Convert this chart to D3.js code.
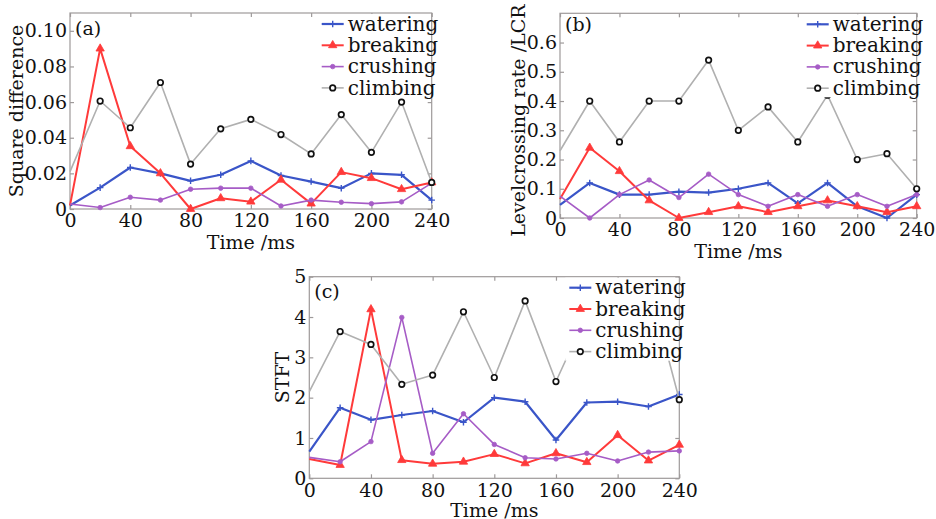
<!DOCTYPE html>
<html>
<head>
<meta charset="utf-8">
<script src="https://cdn.jsdelivr.net/npm/d3@7"></script>
<style>
  body { margin: 0; background: #fff; }
  svg { display: block; font-family: 'DejaVu Serif', serif; }
  .box { fill: none; stroke: #9e9a9a; stroke-width: 1.2; }
  .axis path { display: none; }
  .axis line { stroke: #9e9a9a; stroke-width: 1.2; }
  .axis text { fill: #111; font-size: 19px; font-family: 'DejaVu Serif', serif; }
  .axis-label { fill: #111; font-size: 19px; }
  .legend-text { fill: #111; font-size: 20px; }
</style>
</head>
<body>
<svg id="chart" width="936" height="519"></svg>
<script>
// time axis shared by all three panels (ms)
const times = [0, 20, 40, 60, 80, 100, 120, 140, 160, 180, 200, 220, 240];
const x_ticks = [0, 40, 80, 120, 160, 200, 240];
const series_names = ['watering', 'breaking', 'crushing', 'climbing'];

// (a) square difference
const sq_watering = [0.002, 0.012, 0.0233, 0.020, 0.0158, 0.0192, 0.027, 0.0188, 0.0154, 0.0117, 0.020, 0.0192, 0.005];
const sq_breaking = [0.002, 0.090, 0.0352, 0.020, 0.0, 0.006, 0.0041, 0.0164, 0.003, 0.0207, 0.0173, 0.0111, 0.0149];
const sq_crushing = [0.0028, 0.0008, 0.0066, 0.005, 0.0111, 0.0117, 0.0117, 0.0017, 0.005, 0.0038, 0.003, 0.004, 0.0145];
const sq_climbing = [0.021, 0.0606, 0.0456, 0.071, 0.0252, 0.045, 0.0503, 0.0418, 0.0309, 0.053, 0.0318, 0.060, 0.0149];
const sq_ticks = [0, 0.02, 0.04, 0.06, 0.08, 0.10];

// (b) level crossing rate
const lcr_watering = [0.045, 0.12, 0.08, 0.08, 0.09, 0.087, 0.10, 0.12, 0.05, 0.12, 0.04, 0.0, 0.08];
const lcr_breaking = [0.065, 0.24, 0.16, 0.06, 0.0, 0.02, 0.04, 0.02, 0.04, 0.06, 0.04, 0.02, 0.04];
const lcr_crushing = [0.075, 0.0, 0.08, 0.13, 0.07, 0.15, 0.08, 0.04, 0.08, 0.04, 0.08, 0.04, 0.08];
const lcr_climbing = [0.23, 0.40, 0.26, 0.40, 0.40, 0.54, 0.30, 0.38, 0.26, 0.42, 0.20, 0.22, 0.10];
const lcr_ticks = [0, 0.1, 0.2, 0.3, 0.4, 0.5, 0.6];

// (c) STFT (180-220 of climbing sit behind the legend)
const stft_watering = [0.66, 1.75, 1.45, 1.57, 1.67, 1.39, 2.0, 1.90, 0.95, 1.88, 1.90, 1.78, 2.08];
const stft_breaking = [0.48, 0.33, 4.19, 0.45, 0.36, 0.41, 0.60, 0.37, 0.62, 0.40, 1.07, 0.44, 0.83];
const stft_crushing = [0.52, 0.41, 0.91, 3.99, 0.62, 1.60, 0.84, 0.51, 0.48, 0.62, 0.43, 0.65, 0.68];
const stft_climbing = [2.15, 3.64, 3.32, 2.33, 2.56, 4.13, 2.50, 4.40, 2.40, 4.07, 3.40, 4.85, 1.95];
const stft_ticks = [0, 1, 2, 3, 4, 5];

const styles = {
  watering: { color: '#3a55c8', width: 2.2, marker: 'plus' },
  breaking: { color: '#ff3a3a', width: 2, marker: 'triangle' },
  crushing: { color: '#a65cc6', width: 1.6, marker: 'dot' },
  climbing: { color: '#b0b0b0', width: 1.6, marker: 'ring' }
};

const panels = [
  {
    tag: '(a)', label: 'Square difference', label_x: -47, label_dy: 0, tag_y: 22,
    box: { left: 70, top: 13, right: 431.7, bottom: 209 },
    y_max: 0.11, y_ticks: sq_ticks,
    y_format: d => (d === 0 ? '0' : d3.format('.2f')(d)),
    series: [sq_watering, sq_breaking, sq_crushing, sq_climbing]
  },
  {
    tag: '(b)', label: 'Levelcrossing rate /LCR', label_x: -35, label_dy: 5, tag_y: 18,
    box: { left: 560, top: 13.3, right: 916.7, bottom: 218 },
    y_max: 0.7, y_ticks: lcr_ticks,
    y_format: d => (d === 0 ? '0' : d3.format('.1f')(d)),
    series: [lcr_watering, lcr_breaking, lcr_crushing, lcr_climbing]
  },
  {
    tag: '(c)', label: 'STFT', label_x: -20, label_dy: 0, tag_y: 21,
    box: { left: 309.3, top: 276.7, right: 679.3, bottom: 478.3 },
    y_max: 5, y_ticks: stft_ticks,
    y_format: d => String(d),
    series: [stft_watering, stft_breaking, stft_crushing, stft_climbing]
  }
];

const svg = d3.select('#chart');

function marker_path(kind) {
  if (kind === 'triangle') return d3.symbol(d3.symbolTriangle, 30)();
  if (kind === 'dot') return d3.symbol(d3.symbolCircle, 16)();
  if (kind === 'ring') return d3.symbol(d3.symbolCircle, 24)();
  return d3.symbol(d3.symbolPlus || d3.symbolCross, 16)();
}

function draw_markers(sel, key) {
  const st = styles[key];
  const m = marker_path(st.marker);
  if (st.marker === 'ring') {
    sel.attr('d', m).attr('fill', '#fff').attr('stroke', '#111').attr('stroke-width', 1.7);
  } else if (st.marker === 'plus') {
    sel.attr('d', m).attr('fill', 'none').attr('stroke', st.color).attr('stroke-width', 1.4);
  } else {
    sel.attr('d', m).attr('fill', st.color).attr('stroke', st.color).attr('stroke-width', 0.8);
  }
}

function draw_panel(p) {
  const { left, top, right, bottom } = p.box;
  const w = right - left;
  const h = bottom - top;
  const g = svg.append('g').attr('transform', `translate(${left},${top})`);

  const x = d3.scaleLinear().domain([0, 240]).range([0, w]);
  const y = d3.scaleLinear().domain([0, p.y_max]).range([h, 0]);

  g.append('g')
    .attr('class', 'axis')
    .attr('transform', `translate(0,${h})`)
    .call(d3.axisBottom(x).tickValues(x_ticks).tickSizeInner(-4).tickSizeOuter(0).tickPadding(5).tickFormat(d3.format('d')));
  g.append('g')
    .attr('class', 'axis')
    .call(d3.axisTop(x).tickValues(x_ticks).tickSizeInner(-4).tickSizeOuter(0).tickFormat(''));
  g.append('g')
    .attr('class', 'axis')
    .call(d3.axisLeft(y).tickValues(p.y_ticks).tickSizeInner(-4).tickSizeOuter(0).tickPadding(3).tickFormat(p.y_format));
  g.append('g')
    .attr('class', 'axis')
    .attr('transform', `translate(${w},0)`)
    .call(d3.axisRight(y).tickValues(p.y_ticks).tickSizeInner(-4).tickSizeOuter(0).tickFormat(''));

  g.append('rect').attr('class', 'box').attr('width', w).attr('height', h);

  const line = d3.line().x(d => x(d.t)).y(d => y(d.v));

  series_names.forEach((key, i) => {
    const pts = times.map((t, j) => ({ t, v: p.series[i][j] }));
    g.append('path')
      .datum(pts)
      .attr('d', line)
      .attr('fill', 'none')
      .attr('stroke', styles[key].color)
      .attr('stroke-width', styles[key].width)
      .attr('stroke-linejoin', 'round');
    g.append('g')
      .selectAll('path')
      .data(pts.filter(d => d.t > 0))
      .join('path')
      .attr('transform', d => `translate(${x(d.t)},${y(d.v)})`)
      .call(draw_markers, key);
  });

  // legend with white background, top right inside the axes
  const lg = g.append('g').attr('transform', `translate(${w - 114},0)`);
  lg.append('rect').attr('x', 0).attr('y', 1).attr('width', 113).attr('height', 83).attr('fill', '#fff');
  series_names.forEach((key, i) => {
    const ly = 11 + i * 21.3;
    lg.append('line')
      .attr('x1', 4).attr('x2', 26).attr('y1', ly).attr('y2', ly)
      .attr('stroke', styles[key].color).attr('stroke-width', styles[key].width);
    lg.append('path').attr('transform', `translate(15,${ly})`).call(draw_markers, key);
    lg.append('text')
      .attr('class', 'legend-text')
      .attr('x', 30).attr('y', ly).attr('dy', '0.33em')
      .text(key);
  });

  g.append('text')
    .attr('class', 'axis-label')
    .attr('x', 5).attr('y', p.tag_y)
    .text(p.tag);

  g.append('text')
    .attr('class', 'axis-label')
    .attr('text-anchor', 'middle')
    .attr('x', w / 2).attr('y', Math.min(h + 40, 517 - top))
    .text('Time /ms');

  g.append('text')
    .attr('class', 'axis-label')
    .attr('text-anchor', 'middle')
    .attr('transform', `translate(${p.label_x},${h / 2 + p.label_dy}) rotate(-90)`)
    .text(p.label);
}

panels.forEach(draw_panel);
</script>
</body>
</html>
